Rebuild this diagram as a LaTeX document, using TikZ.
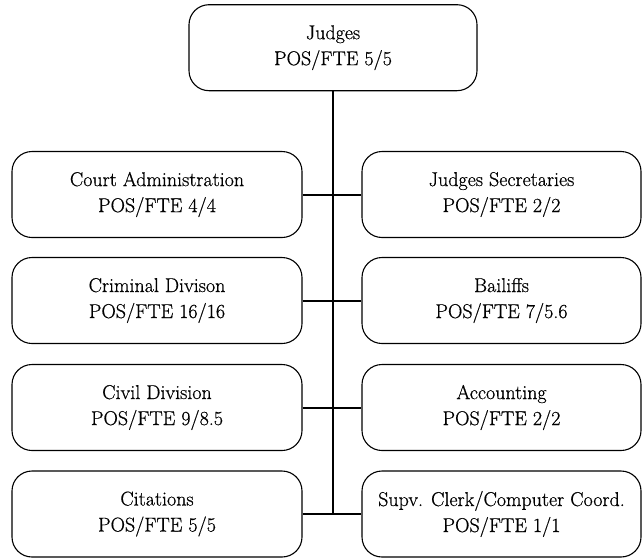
\documentclass[tikz,border=0pt]{standalone}
\usepackage{fontspec}
\setmainfont{Latin Modern Roman}[FakeBold=0.6]
\begin{document}
\begin{tikzpicture}[x=1pt,y=-1pt,
  unit/.style={draw, line width=1.1pt, rounded corners=20pt, align=center,
    minimum height=86pt, inner sep=0pt,
    font=\fontsize{20}{26}\selectfont},
  leftunit/.style={unit, minimum width=290pt},
  rightunit/.style={unit, minimum width=279pt},
  link/.style={line width=2pt}]
\useasboundingbox (0,0) rectangle (642,557);

\node[unit, minimum width=288pt] (judges) at (333,47.7) {Judges\\POS/FTE 5/5};

\node[leftunit]  (courtadmin) at (157,194.5) {Court Administration\\POS/FTE 4/4};
\node[rightunit] (secretaries) at (501.5,194.5) {Judges Secretaries\\POS/FTE 2/2};
\node[leftunit]  (criminal) at (157,300.5) {Criminal Divison\\POS/FTE 16/16};
\node[rightunit] (bailiffs) at (501.5,300.5) {Bailiffs\\POS/FTE 7/5.6};
\node[leftunit]  (civil) at (157,407.5) {Civil Division\\POS/FTE 9/8.5};
\node[rightunit] (accounting) at (501.5,407.5) {Accounting\\POS/FTE 2/2};
\node[leftunit]  (citations) at (157,514) {Citations\\POS/FTE 5/5};
\node[rightunit] (supv) at (501.5,514) {Supv. Clerk/Computer Coord.\\POS/FTE 1/1};

% trunk from the judges down to the last branch
\coordinate (trunkend) at (judges.south |- citations.east);
\draw[link] (judges.south) -- (trunkend);

% branches across the trunk
\draw[link] (courtadmin.east) -- (secretaries.west);
\draw[link] (criminal.east) -- (bailiffs.west);
\draw[link] (civil.east) -- (accounting.west);
\draw[link] (citations.east) -- (supv.west);
\end{tikzpicture}
\end{document}
